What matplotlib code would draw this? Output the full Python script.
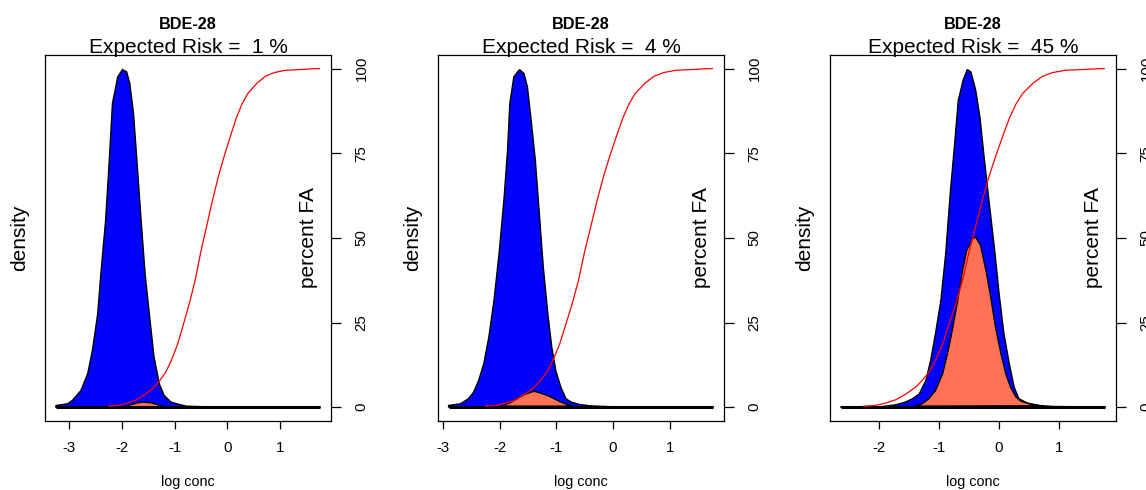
import matplotlib
matplotlib.use('Agg')
import matplotlib.pyplot as plt

plt.rcParams['font.family'] = ['Liberation Sans', 'DejaVu Sans']

# ---------------- data ----------------
chemical = "BDE-28"
risk_pct = [1, 4, 45]
x_min = [-3.26, -2.90, -2.64]
x_max = 1.77
xtick_values = [-3, -2, -1, 0, 1]
pct_ticks = [0, 25, 50, 75, 100]

# cumulative percent of fish-advisory (FA) effect levels (same in all panels)
fa_x = [-2.25, -2.06, -1.89, -1.72, -1.56, -1.39, -1.28, -1.17, -1.06, -0.94,
        -0.83, -0.72, -0.61, -0.50, -0.39, -0.28, -0.17, -0.06, 0.06, 0.17,
        0.28, 0.39, 0.56, 0.72, 0.89, 1.11, 1.39, 1.61, 1.75]
fa_pct = [0.3, 0.5, 1.2, 2.2, 3.8, 5.9, 7.9, 10.3, 13.8, 18.7,
          24.6, 30.6, 37.4, 46.0, 53.5, 61.1, 68.0, 74.0, 80.0, 85.3,
          89.5, 92.6, 95.6, 97.7, 98.8, 99.5, 99.7, 99.9, 100.0]

# exposure density (scaled so that peak = 100), panel 1
exp1_x = [-3.26, -3.25, -3.03, -2.94, -2.78, -2.65, -2.56, -2.46, -2.40, -2.31,
          -2.24, -2.18, -2.08, -1.99, -1.91, -1.85, -1.78, -1.72, -1.64, -1.56,
          -1.48, -1.39, -1.29, -1.20, -1.07, -0.91, -0.78, -0.50, 0.00, 1.00, 1.77]
exp1_d = [0.0, 0.5, 1.0, 2.0, 4.9, 9.9, 16.8, 27.6, 39.4, 55.2,
          72.9, 89.7, 97.5, 99.7, 99.0, 95.6, 86.7, 73.9, 56.1, 39.4,
          27.6, 14.8, 6.9, 3.5, 1.5, 0.8, 0.3, 0.15, 0.05, 0.0, 0.0]
# overlap (risk) density, panel 1
ovl1_x = [-1.99, -1.85, -1.72, -1.61, -1.45, -1.30, -1.16]
ovl1_d = [0.0, 0.6, 1.2, 1.5, 1.3, 0.6, 0.0]

# panel 2
exp2_x = [-2.90, -2.90, -2.69, -2.55, -2.46, -2.37, -2.28, -2.19, -2.10, -2.01,
          -1.92, -1.86, -1.82, -1.75, -1.65, -1.57, -1.51, -1.45, -1.37, -1.30,
          -1.23, -1.15, -1.08, -1.01, -0.92, -0.83, -0.74, -0.59, -0.41, 0.0, 1.0, 1.77]
exp2_d = [0.0, 0.5, 1.0, 2.5, 4.4, 7.9, 12.8, 20.7, 31.5, 45.3,
          62.1, 75.9, 89.7, 97.5, 99.7, 98.5, 94.6, 85.7, 72.9, 57.2,
          41.4, 27.6, 17.7, 10.8, 5.9, 2.5, 1.5, 0.8, 0.4, 0.1, 0.0, 0.0]
ovl2_x = [-1.98, -1.83, -1.69, -1.54, -1.39, -1.27, -1.15, -1.04, -0.92, -0.80, -0.71]
ovl2_d = [0.3, 1.2, 2.5, 3.9, 4.7, 4.1, 3.4, 2.5, 1.5, 0.7, 0.3]

# panel 3
exp3_x = [-2.64, -2.00, -1.89, -1.72, -1.56, -1.44, -1.33, -1.22, -1.14, -1.06,
          -0.97, -0.89, -0.81, -0.75, -0.68, -0.60, -0.53, -0.47, -0.39, -0.32,
          -0.25, -0.17, -0.08, 0.00, 0.08, 0.17, 0.25, 0.33, 0.47, 0.67, 0.89, 1.77]
exp3_d = [0.0, 0.1, 0.3, 0.7, 1.5, 2.5, 3.9, 7.9, 13.8, 21.7,
          31.5, 45.3, 64.0, 75.9, 90.6, 96.5, 99.7, 99.0, 93.6, 85.7,
          73.9, 61.1, 47.3, 33.5, 21.7, 12.8, 5.9, 2.5, 1.2, 0.5, 0.2, 0.0]
ovl3_x = [-1.39, -1.28, -1.17, -1.06, -0.94, -0.86, -0.78, -0.69, -0.61, -0.54,
          -0.44, -0.39, -0.31, -0.22, -0.14, -0.06, 0.03, 0.11, 0.19, 0.28,
          0.36, 0.50, 0.67]
ovl3_d = [0.3, 1.0, 2.5, 4.9, 9.9, 15.8, 22.7, 31.5, 40.4, 46.3,
          49.8, 50.2, 47.8, 40.4, 32.5, 23.6, 15.8, 9.9, 5.9, 3.0,
          1.8, 1.0, 0.4]

exposure_x = [exp1_x, exp2_x, exp3_x]
exposure_d = [exp1_d, exp2_d, exp3_d]
overlap_x = [ovl1_x, ovl2_x, ovl3_x]
overlap_d = [ovl1_d, ovl2_d, ovl3_d]

# ---------------- figure ----------------
W, H = 1146, 490
fig = plt.figure(figsize=(W / 100, H / 100), dpi=100)

box_left = [45, 438, 830]
box_w = 286
box_top, box_bottom = 55, 420.7

for i in range(3):
    ax = fig.add_axes([box_left[i] / W, (H - box_bottom) / H,
                       box_w / W, (box_bottom - box_top) / H])
    lo = x_min[i]
    pad = (x_max - lo) * 0.04
    ax.set_xlim(lo - pad, x_max + pad)
    ax.set_ylim(-4, 104)

    ax.fill(exposure_x[i], exposure_d[i], facecolor='#0000FF',
            edgecolor='black', linewidth=1.0, zorder=2)
    ax.fill(overlap_x[i], overlap_d[i], facecolor='#FF7256',
            edgecolor='black', linewidth=1.0, zorder=3)
    ax.plot([lo, x_max], [0, 0], color='black', linewidth=2.2,
            solid_capstyle='butt', zorder=4)
    ax.plot(fa_x, fa_pct, color='#FF0000', linewidth=0.9, zorder=5)

    for s in ax.spines.values():
        s.set_linewidth(0.9)

    ticks = [t for t in xtick_values if lo - pad <= t <= x_max + pad]
    ax.set_xticks(ticks)
    ax.set_xticklabels([str(t) for t in ticks])
    ax.yaxis.tick_right()
    ax.set_yticks(pct_ticks)
    ax.set_yticklabels([str(t) for t in pct_ticks], rotation=90, va='center')
    ax.tick_params(axis='x', length=5.5, width=0.9, pad=9, labelsize=10.8)
    ax.tick_params(axis='y', length=7, width=0.9, pad=10, labelsize=10.8)

    ax.text(0.92, 0.5, 'percent FA', rotation=90, transform=ax.transAxes,
            ha='center', va='center', fontsize=15)

    cx = (box_left[i] + box_w / 2) / W
    fig.text(cx, 1 - 29.3 / H, chemical, ha='center', va='baseline',
             fontsize=11.7, fontweight='bold')
    fig.text(cx, 1 - 53.3 / H, 'Expected Risk =  %d %%' % risk_pct[i],
             ha='center', va='baseline', fontsize=15)
    fig.text(cx, 1 - 481.5 / H, 'log conc', ha='center', va='center',
             fontsize=10.4)
    fig.text((box_left[i] - 25) / W, 1 - 238 / H, 'density', rotation=90,
             ha='center', va='center', fontsize=15)

fig.savefig('out.png', dpi=100)
